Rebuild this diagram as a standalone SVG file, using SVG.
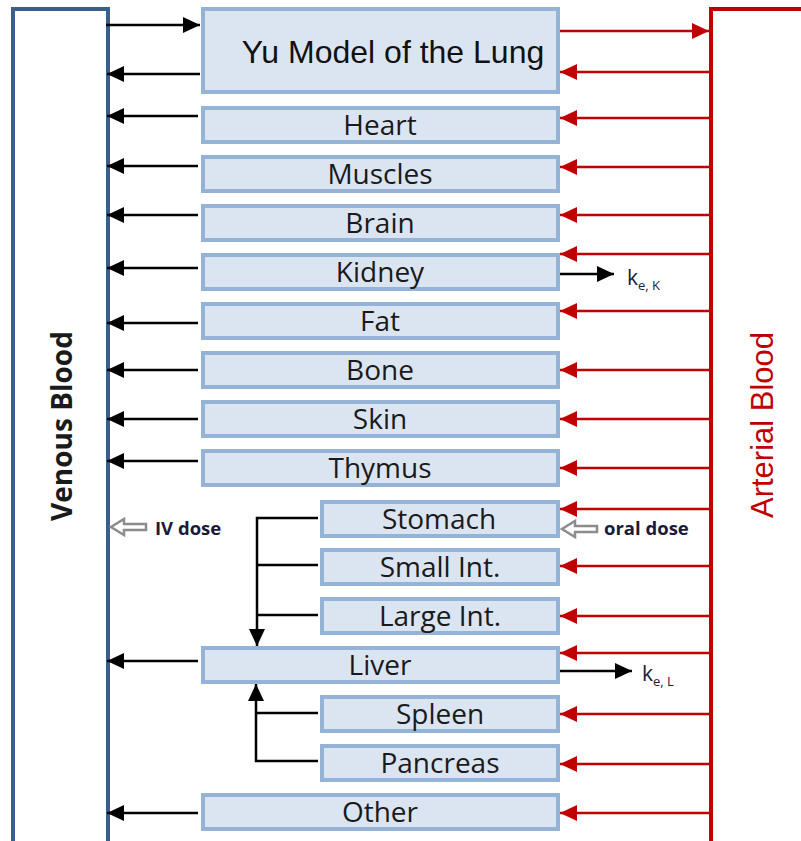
<svg xmlns="http://www.w3.org/2000/svg" width="801" height="841" viewBox="0 0 801 841">
<style>
.node rect{fill:#DBE5F1;stroke:#95B3D7;stroke-width:4}
.lbl{font-family:"Open Sans","Liberation Sans",sans-serif;font-size:28px;fill:#1a1a1a;text-anchor:middle}
.blk{stroke:#000;stroke-width:2.5;fill:none}
.red{stroke:#C00000;stroke-width:2.5;fill:none}
.small{font-family:"Open Sans","Liberation Sans",sans-serif;font-size:18.5px;font-weight:bold;fill:#1a1a3a}
.k{font-family:"Open Sans","Liberation Sans",sans-serif;font-size:21px;fill:#1a1a3a}
</style>
<defs>
<marker id="ab" markerUnits="userSpaceOnUse" markerWidth="18" markerHeight="16" refX="17" refY="8" orient="auto"><path d="M0,0 L17,8 L0,16 Z" fill="#000"/></marker>
<marker id="ar" markerUnits="userSpaceOnUse" markerWidth="18" markerHeight="16" refX="17" refY="8" orient="auto"><path d="M0,0 L17,8 L0,16 Z" fill="#C00000"/></marker>
</defs>
<g id="venous"><rect x="13" y="9" width="95" height="850" fill="#fff" stroke="#3A5F8B" stroke-width="4"/>
<text transform="translate(72,426) rotate(-90)" font-family="'Open Sans','Liberation Sans',sans-serif" font-weight="bold" font-size="28" text-anchor="middle" fill="#1a1a1a">Venous Blood</text></g>
<g id="arterial"><rect x="711" y="9" width="110" height="850" fill="#fff" stroke="#C00000" stroke-width="4"/>
<text transform="translate(773,425) rotate(-90)" font-family="'Liberation Sans',Arial,sans-serif" font-size="31" text-anchor="middle" fill="#C00000">Arterial Blood</text></g>
<g id="lung" class="node"><rect x="203" y="9" width="355" height="83"/><text x="393" y="63" font-family="'Liberation Sans',Arial,sans-serif" font-size="32" text-anchor="middle" fill="#111">Yu Model of the Lung</text></g>
<g id="heart" class="node"><rect x="203" y="108" width="355" height="34"/><text class="lbl" x="380" y="135">Heart</text></g>
<g id="muscles" class="node"><rect x="203" y="157" width="355" height="34"/><text class="lbl" x="380" y="184">Muscles</text></g>
<g id="brain" class="node"><rect x="203" y="206" width="355" height="34"/><text class="lbl" x="380" y="233">Brain</text></g>
<g id="kidney" class="node"><rect x="203" y="255" width="355" height="34"/><text class="lbl" x="380" y="282">Kidney</text></g>
<g id="fat" class="node"><rect x="203" y="304" width="355" height="34"/><text class="lbl" x="380" y="331">Fat</text></g>
<g id="bone" class="node"><rect x="203" y="353" width="355" height="34"/><text class="lbl" x="380" y="380">Bone</text></g>
<g id="skin" class="node"><rect x="203" y="402" width="355" height="34"/><text class="lbl" x="380" y="429">Skin</text></g>
<g id="thymus" class="node"><rect x="203" y="451" width="355" height="34"/><text class="lbl" x="380" y="478">Thymus</text></g>
<g id="stomach" class="node"><rect x="322" y="502" width="236" height="34"/><text class="lbl" x="439" y="529">Stomach</text></g>
<g id="smallint" class="node"><rect x="322" y="550" width="236" height="34"/><text class="lbl" x="440" y="577">Small Int.</text></g>
<g id="largeint" class="node"><rect x="322" y="599" width="236" height="34"/><text class="lbl" x="440" y="626">Large Int.</text></g>
<g id="liver" class="node"><rect x="203" y="648" width="355" height="34"/><text class="lbl" x="380" y="675">Liver</text></g>
<g id="spleen" class="node"><rect x="322" y="697" width="236" height="34"/><text class="lbl" x="440" y="724">Spleen</text></g>
<g id="pancreas" class="node"><rect x="322" y="746" width="236" height="34"/><text class="lbl" x="440" y="773">Pancreas</text></g>
<g id="other" class="node"><rect x="203" y="795" width="355" height="34"/><text class="lbl" x="380" y="822">Other</text></g>
<g id="connectors">
<path class="blk" d="M106,25 H200" marker-end="url(#ab)"/>
<path class="blk" d="M200,74 H107" marker-end="url(#ab)"/>
<path class="red" d="M560,31 H709" marker-end="url(#ar)"/>
<path class="red" d="M709,72 H560" marker-end="url(#ar)"/>
<path class="blk" d="M198,116 H107" marker-end="url(#ab)"/>
<path class="blk" d="M198,166 H107" marker-end="url(#ab)"/>
<path class="blk" d="M198,215 H107" marker-end="url(#ab)"/>
<path class="blk" d="M198,268 H107" marker-end="url(#ab)"/>
<path class="blk" d="M198,323 H107" marker-end="url(#ab)"/>
<path class="blk" d="M198,370 H107" marker-end="url(#ab)"/>
<path class="blk" d="M198,419 H107" marker-end="url(#ab)"/>
<path class="blk" d="M198,461 H107" marker-end="url(#ab)"/>
<path class="blk" d="M198,661 H107" marker-end="url(#ab)"/>
<path class="blk" d="M198,813 H107" marker-end="url(#ab)"/>
<path class="red" d="M709,118 H560" marker-end="url(#ar)"/>
<path class="red" d="M709,167 H560" marker-end="url(#ar)"/>
<path class="red" d="M709,215 H560" marker-end="url(#ar)"/>
<path class="red" d="M709,254 H560" marker-end="url(#ar)"/>
<path class="red" d="M709,311 H560" marker-end="url(#ar)"/>
<path class="red" d="M709,370 H560" marker-end="url(#ar)"/>
<path class="red" d="M709,419 H560" marker-end="url(#ar)"/>
<path class="red" d="M709,468 H560" marker-end="url(#ar)"/>
<path class="red" d="M709,509 H560" marker-end="url(#ar)"/>
<path class="red" d="M709,566 H560" marker-end="url(#ar)"/>
<path class="red" d="M709,616 H560" marker-end="url(#ar)"/>
<path class="red" d="M709,653 H560" marker-end="url(#ar)"/>
<path class="red" d="M709,714 H560" marker-end="url(#ar)"/>
<path class="red" d="M709,764 H560" marker-end="url(#ar)"/>
<path class="red" d="M709,813 H560" marker-end="url(#ar)"/>
<path class="blk" d="M560,274 H614" marker-end="url(#ab)"/>
<path class="blk" d="M560,671 H632" marker-end="url(#ab)"/>
<path class="blk" stroke-width="3" d="M318,518 H257 V646" marker-end="url(#ab)"/>
<path class="blk" stroke-width="3" d="M257,565 H318 M257,615 H318"/>
<path class="blk" stroke-width="3" d="M318,761 H256 V684" marker-end="url(#ab)"/>
<path class="blk" stroke-width="3" d="M256,713 H318"/>
<path d="M146,524 H124 V519 L111,527 L124,535 V530 H146 Z" fill="#fff" stroke="#8c8c8c" stroke-width="2.5"/>
<path d="M597,526 H575 V521 L562,529 L575,537 V532 H597 Z" fill="#fff" stroke="#8c8c8c" stroke-width="2.5"/>
</g>
<text class="small" x="155" y="535">IV dose</text>
<text class="small" x="604" y="535">oral dose</text>
<text class="k" x="627" y="285">k<tspan font-size="13" dy="5">e, K</tspan></text>
<text class="k" x="642" y="681">k<tspan font-size="13" dy="5">e, L</tspan></text>
</svg>
